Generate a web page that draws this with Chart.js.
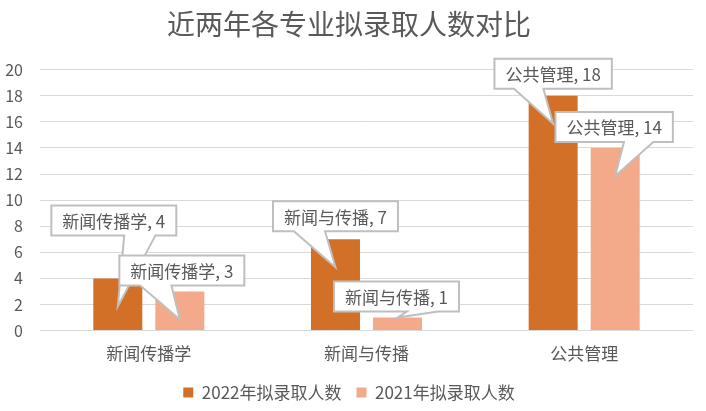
<!DOCTYPE html>
<html>
<head>
<meta charset="utf-8">
<script src="https://cdn.jsdelivr.net/npm/chart.js@4"></script>
<style>
  html, body { margin: 0; padding: 0; background: #fff; }
  #wrap { width: 706px; height: 411px; }
</style>
</head>
<body>
<div id="wrap"><canvas id="chart" width="706" height="411"></canvas></div>
<script>
// data
const majors = ['新闻传播学', '新闻与传播', '公共管理'];
const admit2022 = [4, 7, 18];
const admit2021 = [3, 1, 14];
const yTicks = [0, 2, 4, 6, 8, 10, 12, 14, 16, 18, 20];

const FONT = '"Noto Sans CJK SC", "Noto Sans", sans-serif';
const TEXT = '#595959';

// callout boxes: [dx of box centre from tip, box bottom offset from tip]
const calloutOffsets = [
    [[-4, -71], [0, -36], [0, -35]],
    [[2, -34], [-1, -6], [-1, -34]]
];

const calloutPlugin = {
    id: 'callouts',
    afterDatasetsDraw(chart) {
        const ctx = chart.ctx;
        ctx.save();
        ctx.font = '17px ' + FONT;
        ctx.textAlign = 'center';
        ctx.textBaseline = 'middle';
        chart.data.datasets.forEach((ds, di) => {
            chart.getDatasetMeta(di).data.forEach((bar, i) => {
                const text = chart.data.labels[i] + ', ' + ds.data[i];
                const tipX = bar.x;
                const tipY = (bar.base - bar.y) > 30 ? bar.y + 28 : bar.y;
                const off = calloutOffsets[di][i];
                const w = ctx.measureText(text).width + 22;
                const h = 30;
                const cx = tipX + off[0];
                const b = tipY + off[1];
                const l = cx - w / 2, r = cx + w / 2, t = b - h;
                const right = tipX - cx > 0;
                const x1 = l + w * (right ? 7 : 2) / 12;
                const x2 = l + w * (right ? 10 : 5) / 12;

                ctx.beginPath();
                ctx.moveTo(l, t);
                ctx.lineTo(r, t);
                ctx.lineTo(r, b);
                ctx.lineTo(x2, b);
                ctx.lineTo(tipX, tipY);
                ctx.lineTo(x1, b);
                ctx.lineTo(l, b);
                ctx.closePath();
                ctx.fillStyle = '#ffffff';
                ctx.fill();
                ctx.lineWidth = 2;
                ctx.strokeStyle = '#BFBFBF';
                ctx.stroke();

                ctx.fillStyle = TEXT;
                ctx.fillText(text, cx, t + h / 2 + 1);
            });
        });
        ctx.restore();
    }
};

new Chart(document.getElementById('chart'), {
    type: 'bar',
    data: {
        labels: majors,
        datasets: [{
            label: '2022年拟录取人数',
            data: admit2022,
            backgroundColor: '#D37028'
        }, {
            label: '2021年拟录取人数',
            data: admit2021,
            backgroundColor: '#F2AA8A'
        }]
    },
    options: {
        responsive: false,
        animation: false,
        categoryPercentage: 0.57,
        barPercentage: 0.79,
        layout: { padding: { top: 8, left: 5, right: 13, bottom: 0 } },
        plugins: {
            title: {
                display: true,
                text: '近两年各专业拟录取人数对比',
                color: TEXT,
                font: { family: FONT, size: 28, weight: 'normal' },
                padding: { top: 0, bottom: 28 }
            },
            legend: {
                position: 'bottom',
                labels: {
                    color: TEXT,
                    font: { family: FONT, size: 17 },
                    boxWidth: 10,
                    boxHeight: 10,
                    padding: 15
                }
            },
            tooltip: { enabled: false }
        },
        scales: {
            x: {
                grid: { display: false },
                border: { display: false },
                ticks: { color: TEXT, font: { family: FONT, size: 17 }, padding: 5 },
                afterFit: axis => { axis.paddingLeft = 0; axis.paddingRight = 0; }
            },
            y: {
                min: 0,
                max: 20,
                afterBuildTicks: axis => { axis.ticks = yTicks.map(v => ({ value: v })); },
                grid: { color: '#D9D9D9', lineWidth: 1, drawTicks: false },
                border: { display: false },
                ticks: { color: TEXT, font: { family: FONT, size: 16 }, padding: 17 },
                afterFit: axis => { axis.width = 35; }
            }
        }
    },
    plugins: [calloutPlugin]
});
</script>
</body>
</html>
